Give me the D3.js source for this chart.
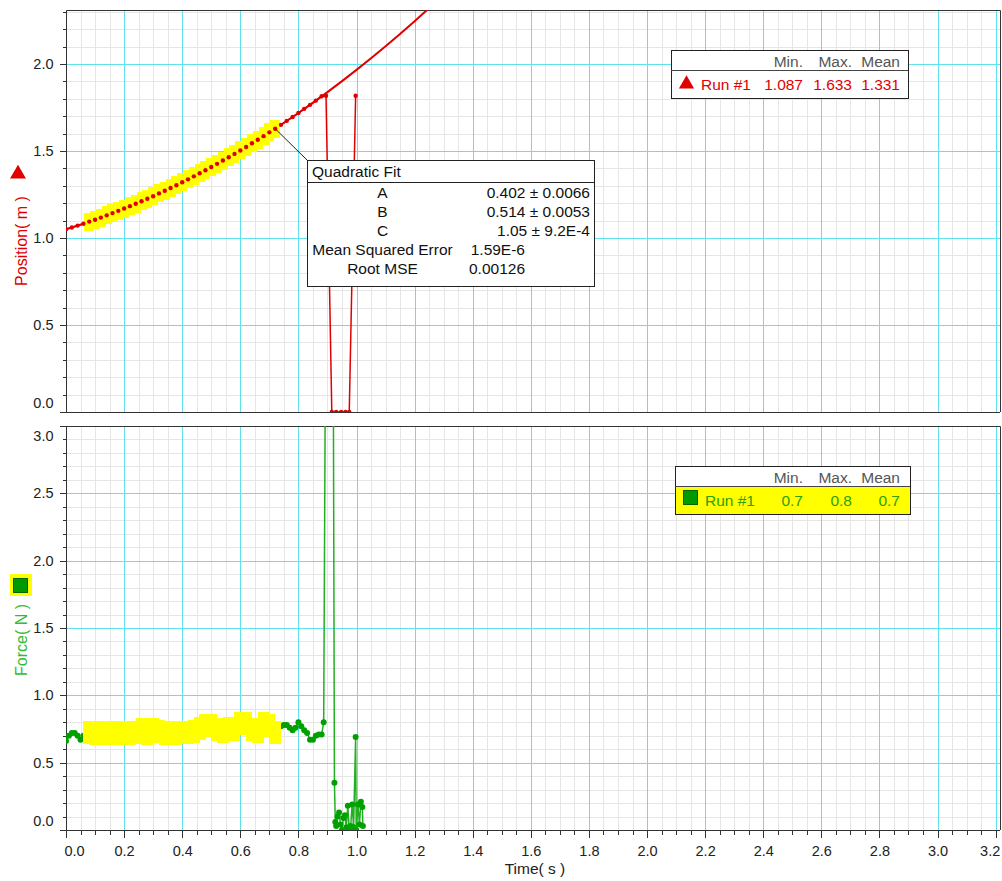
<!DOCTYPE html>
<html>
<head>
<meta charset="utf-8">
<script src="https://cdn.jsdelivr.net/npm/d3@7"></script>
<style>
body { margin: 0; background: #fff; }
svg { display: block; font-family: "Liberation Sans", Arial, sans-serif; }
.axis path, .axis line { stroke: #333; shape-rendering: crispEdges; }
.axis text { fill: #222; font-size: 14.5px; font-family: "Liberation Sans", Arial, sans-serif; }
.grid line { shape-rendering: crispEdges; }
</style>
</head>
<body>
<svg id="chart" width="1002" height="881"></svg>
<script>
// tick labels
const timeTicks = [0.0, 0.2, 0.4, 0.6, 0.8, 1.0, 1.2, 1.4, 1.6, 1.8, 2.0, 2.2, 2.4, 2.6, 2.8, 3.0, 3.2];
const posTicks = [0.0, 0.5, 1.0, 1.5, 2.0];
const forceTicks = [0.0, 0.5, 1.0, 1.5, 2.0, 2.5, 3.0];

// position run #1 (m)
const posTime = [0, 0.02, 0.04, 0.06, 0.08, 0.10, 0.12, 0.14, 0.16, 0.18, 0.20, 0.22, 0.24, 0.26, 0.28,
    0.30, 0.32, 0.34, 0.36, 0.38, 0.40, 0.42, 0.44, 0.46, 0.48, 0.50, 0.52, 0.54, 0.56, 0.58,
    0.60, 0.62, 0.64, 0.66, 0.68, 0.70, 0.72, 0.74, 0.76, 0.78, 0.80, 0.82, 0.84, 0.86, 0.88,
    0.895, 0.915, 0.93, 0.947, 0.962, 0.975, 0.997];
const posValue = [1.050, 1.060, 1.071, 1.082, 1.094, 1.105, 1.117, 1.130, 1.143, 1.156, 1.169, 1.183, 1.197, 1.211, 1.225,
    1.240, 1.256, 1.271, 1.287, 1.303, 1.320, 1.337, 1.354, 1.372, 1.389, 1.408, 1.426, 1.445, 1.464, 1.483,
    1.503, 1.523, 1.544, 1.564, 1.585, 1.607, 1.628, 1.650, 1.673, 1.695, 1.718, 1.742, 1.765, 1.789, 1.814,
    1.817, 0.0, 0.0, 0.0, 0.0, 0.0, 1.817];

// quadratic fit curve as drawn
const fitTime = [0, 0.1, 0.2, 0.3, 0.4, 0.5, 0.6, 0.7, 0.8, 0.9, 1.0, 1.1, 1.2, 1.3];
const fitValue = [1.050, 1.105, 1.169, 1.240, 1.320, 1.408, 1.503, 1.607, 1.718, 1.838, 1.966, 2.102, 2.246, 2.397];

// force run #1 (N)
const forceTime = [0, 0.01, 0.02, 0.03, 0.04, 0.05, 0.06, 0.07,
    0.08, 0.10, 0.12, 0.14, 0.16, 0.18, 0.20, 0.22, 0.24, 0.26, 0.28, 0.30, 0.32, 0.34, 0.36, 0.38,
    0.40, 0.42, 0.44, 0.46, 0.48, 0.50, 0.52, 0.54, 0.56, 0.58, 0.60, 0.62, 0.64, 0.66, 0.68, 0.70, 0.72,
    0.73, 0.74, 0.75, 0.76, 0.77, 0.78, 0.79, 0.80, 0.81, 0.82, 0.83, 0.84, 0.85, 0.86, 0.87, 0.88, 0.887,
    0.893, 0.920, 0.924, 0.927, 0.93, 0.935, 0.94, 0.945, 0.95, 0.955, 0.96, 0.965, 0.97, 0.975, 0.98,
    0.985, 0.99, 0.997, 0.999, 1.005, 1.01, 1.015, 1.02, 1.022];
const forceValue = [0.66, 0.70, 0.72, 0.72, 0.70, 0.67, 0.70, 0.72,
    0.72, 0.71, 0.72, 0.71, 0.72, 0.71, 0.72, 0.71, 0.72, 0.74, 0.71, 0.74, 0.73, 0.71, 0.72, 0.71,
    0.72, 0.72, 0.73, 0.75, 0.77, 0.77, 0.74, 0.73, 0.75, 0.74, 0.79, 0.79, 0.74, 0.73, 0.79, 0.77, 0.72,
    0.72, 0.77, 0.78, 0.78, 0.76, 0.74, 0.76, 0.80, 0.77, 0.74, 0.72, 0.67, 0.67, 0.70, 0.71, 0.71, 0.80,
    3.5, 3.5, 0.35, 0.06, 0.03, 0.10, 0.13, 0.04, 0.00, 0.09, 0.11, 0.02, 0.18, 0.00, 0.03,
    0.19, 0.02, 0.69, 0.00, 0.19, 0.04, 0.21, 0.17, 0.03];

// selected range (s) and stats
const selection = [0.07, 0.73];
const statHeaders = ["Min.", "Max.", "Mean"];
const posStats = ["1.087", "1.633", "1.331"];
const forceStats = ["0.7", "0.8", "0.7"];
const fitNames = ["A", "B", "C", "Mean Squared Error", "Root MSE"];
const fitNumbers = ["0.402 \u00b1 0.0066", "0.514 \u00b1 0.0053", "1.05 \u00b1 9.2E-4", "1.59E-6", "0.00126"];

const svg = d3.select("#chart");
const x = d3.scaleLinear().domain([0, 3.215]).range([66, 1000]);
const yPos = d3.scaleLinear().domain([0, 2.31]).range([412, 10]);
const yForce = d3.scaleLinear().domain([0, 3]).range([830, 426]);

const red = "#e00000";
const green = "#00a000";
const cyan = "#5fe1ee";

function panel(y, id, yTicks, step) {
    const g = svg.append("g");
    const [y0, y1] = y.range();
    const top = Math.min(y0, y1), bottom = Math.max(y0, y1);
    const grid = g.append("g").attr("class", "grid");
    const xMinor = d3.range(0, 3.2001, 0.05);
    const yMinor = d3.range(0, y.domain()[1] + 0.0001, step);
    grid.selectAll("line.vx").data(xMinor).enter().append("line")
        .attr("x1", d => Math.round(x(d)) + 0.5).attr("x2", d => Math.round(x(d)) + 0.5)
        .attr("y1", top).attr("y2", bottom).attr("stroke", "#e6e6e6");
    grid.selectAll("line.hy").data(yMinor).enter().append("line")
        .attr("y1", d => Math.round(y(d)) + 0.5).attr("y2", d => Math.round(y(d)) + 0.5)
        .attr("x1", 66).attr("x2", 1000).attr("stroke", "#e6e6e6");
    grid.selectAll("line.mx").data(timeTicks).enter().append("line")
        .attr("x1", d => Math.round(x(d)) + 0.5).attr("x2", d => Math.round(x(d)) + 0.5)
        .attr("y1", top).attr("y2", bottom).attr("stroke", cyan);
    grid.selectAll("line.my").data(yTicks).enter().append("line")
        .attr("y1", d => Math.round(y(d)) + 0.5).attr("y2", d => Math.round(y(d)) + 0.5)
        .attr("x1", 66).attr("x2", 1000).attr("stroke", cyan);

    svg.append("clipPath").attr("id", id).append("rect")
        .attr("x", 66).attr("y", top).attr("width", 934).attr("height", bottom - top);

    // frame
    g.append("path").attr("d", `M66.5,${bottom}V${top + 0.5}H1000.5V${bottom}`)
        .attr("fill", "none").attr("stroke", "#333");

    const ax = g.append("g").attr("class", "axis").attr("transform", "translate(66.5,0)");
    ax.append("g").call(d3.axisLeft(y).tickValues(yMinor).tickSize(4).tickSizeOuter(0).tickFormat(""))
        .call(s => s.select(".domain").remove());
    const major = ax.append("g").call(d3.axisLeft(y).tickValues(yTicks).tickSize(7).tickSizeOuter(0)
        .tickPadding(6).tickFormat(d3.format(".1f")));
    major.select(".domain").remove();
    major.selectAll(".tick text")
        .attr("dy", d => d === 0 ? "-0.3em" : (y(d) - top < 8 ? "1.0em" : "0.32em"));
    return g.append("g").attr("clip-path", `url(#${id})`);
}

// ---------- position panel ----------
const pPlot = panel(yPos, "clipPos", posTicks, 0.1);
svg.append("line").attr("x1", 60).attr("x2", 1000).attr("y1", 412.5).attr("y2", 412.5).attr("stroke", "#333");

const posPts = posTime.map((t, i) => [t, posValue[i]]);
const inSel = d => d[0] > selection[0] && d[0] < selection[1];

pPlot.append("path").datum(posPts)
    .attr("d", d3.line().x(d => x(d[0])).y(d => yPos(d[1])))
    .attr("fill", "none").attr("stroke", red).attr("stroke-width", 1.5);
pPlot.append("path").datum(fitTime.map((t, i) => [t, fitValue[i]]))
    .attr("d", d3.line().curve(d3.curveMonotoneX).x(d => x(d[0])).y(d => yPos(d[1])))
    .attr("fill", "none").attr("stroke", red).attr("stroke-width", 2);
pPlot.selectAll("rect.hl").data(posPts.filter(inSel)).enter().append("rect")
    .attr("x", d => Math.round(x(d[0])) - 5).attr("y", d => Math.round(yPos(d[1])) - 9)
    .attr("width", 10).attr("height", 18).attr("fill", "#ffff00");
pPlot.selectAll("circle").data(posPts).enter().append("circle")
    .attr("cx", d => x(d[0])).attr("cy", d => yPos(d[1])).attr("r", 2.2).attr("fill", red);

// ---------- force panel ----------
const fPlot = panel(yForce, "clipForce", forceTicks, 0.1);
const fAxis = svg.append("g").attr("class", "axis").attr("transform", "translate(0,830.5)");
fAxis.append("g").call(d3.axisBottom(x).tickValues(d3.range(0, 3.2001, 0.05)).tickSize(4).tickSizeOuter(0).tickFormat(""));
const xMajor = fAxis.append("g").call(d3.axisBottom(x).tickValues(timeTicks).tickSize(7).tickSizeOuter(0)
    .tickPadding(8).tickFormat(d3.format(".1f")));
xMajor.selectAll(".tick text")
    .attr("dx", (d, i) => i === 0 ? 8 : (i === timeTicks.length - 1 ? -6 : 0));
fAxis.selectAll(".domain").attr("d", "M60,0H1000");

const forcePts = forceTime.map((t, i) => [t, forceValue[i]]);
fPlot.append("path").datum(forcePts)
    .attr("d", d3.line().x(d => x(d[0])).y(d => yForce(d[1])))
    .attr("fill", "none").attr("stroke", "#22b022").attr("stroke-width", 1.5);
fPlot.selectAll("circle").data(forcePts).enter().append("circle")
    .attr("cx", d => x(d[0])).attr("cy", d => yForce(d[1])).attr("r", 3).attr("fill", green);
fPlot.selectAll("rect.hl").data(forcePts.filter(inSel)).enter().append("rect")
    .attr("x", d => Math.round(x(d[0])) - 6).attr("y", d => Math.round(yForce(d[1])) - 12)
    .attr("width", 12).attr("height", 23).attr("fill", "#ffff00");

// ---------- axis titles ----------
svg.append("text").attr("x", 535).attr("y", 874).attr("text-anchor", "middle")
    .attr("font-size", 15.5).attr("fill", "#222").text("Time( s )");
svg.append("text").attr("transform", "translate(27,241) rotate(-90)").attr("text-anchor", "middle")
    .attr("font-size", 16).attr("fill", red).text("Position( m )");
svg.append("path").attr("d", d3.symbol(d3.symbolTriangle).size(110))
    .attr("transform", "translate(18,174)").attr("fill", red);
svg.append("text").attr("transform", "translate(27,640) rotate(-90)").attr("text-anchor", "middle")
    .attr("font-size", 16).attr("fill", "#33bb33").text("Force( N )");
svg.append("rect").attr("x", 10).attr("y", 574).attr("width", 22).attr("height", 22).attr("fill", "#ffff00");
svg.append("rect").attr("x", 13.5).attr("y", 578.5).attr("width", 14).attr("height", 14)
    .attr("fill", "#009900").attr("stroke", "#006600");

// ---------- legends ----------
const colEnds = [803, 852, 900];
function legend(bx, by, w, color, stats, rowBg) {
    const g = svg.append("g").attr("font-size", 15.5);
    g.append("rect").attr("x", bx + 0.5).attr("y", by + 0.5).attr("width", w).attr("height", 48)
        .attr("fill", "#fff").attr("stroke", "#222");
    if (rowBg) g.append("rect").attr("x", bx + 1).attr("y", by + 21).attr("width", w - 1).attr("height", 27).attr("fill", rowBg);
    g.append("line").attr("x1", bx).attr("x2", bx + w).attr("y1", by + 20.5).attr("y2", by + 20.5).attr("stroke", "#444");
    g.selectAll("text.h").data(statHeaders).enter().append("text")
        .attr("x", (d, i) => colEnds[i]).attr("y", by + 17).attr("text-anchor", "end").attr("fill", "#555").text(d => d);
    g.selectAll("text.v").data(stats).enter().append("text")
        .attr("x", (d, i) => colEnds[i]).attr("y", by + 39.5).attr("text-anchor", "end").attr("fill", color).text(d => d);
    g.append("text").attr("x", bx + 30).attr("y", by + 39.5).attr("fill", color).text("Run #1");
    return g;
}
legend(671, 50, 237, red, posStats, null);
svg.append("path").attr("d", d3.symbol(d3.symbolTriangle).size(100))
    .attr("transform", "translate(686.5,84)").attr("fill", red);
legend(675, 466, 235, "#2ea000", forceStats, "#ffff00");
svg.append("rect").attr("x", 683.5).attr("y", 490.5).attr("width", 14).attr("height", 14)
    .attr("fill", "#009900").attr("stroke", "#006600");

// ---------- quadratic fit box ----------
const lastSel = posPts.filter(inSel).slice(-1)[0];
svg.append("line").attr("x1", x(lastSel[0])).attr("y1", yPos(lastSel[1]))
    .attr("x2", 307.5).attr("y2", 160.5).attr("stroke", "#222");
const fit = svg.append("g").attr("font-size", 15.5).attr("fill", "#111");
fit.append("rect").attr("x", 307.5).attr("y", 160.5).attr("width", 287).attr("height", 126)
    .attr("fill", "#fff").attr("stroke", "#222");
fit.append("line").attr("x1", 307).attr("x2", 595).attr("y1", 182.5).attr("y2", 182.5).attr("stroke", "#222");
fit.append("text").attr("x", 312).attr("y", 177).text("Quadratic Fit");
fit.selectAll("text.n").data(fitNames).enter().append("text")
    .attr("x", 382.5).attr("y", (d, i) => 198 + i * 19).attr("text-anchor", "middle").text(d => d);
fit.selectAll("text.v").data(fitNumbers).enter().append("text")
    .attr("x", (d, i) => i < 3 ? 590 : 525).attr("y", (d, i) => 198 + i * 19)
    .attr("text-anchor", "end").text(d => d);
</script>
</body>
</html>
